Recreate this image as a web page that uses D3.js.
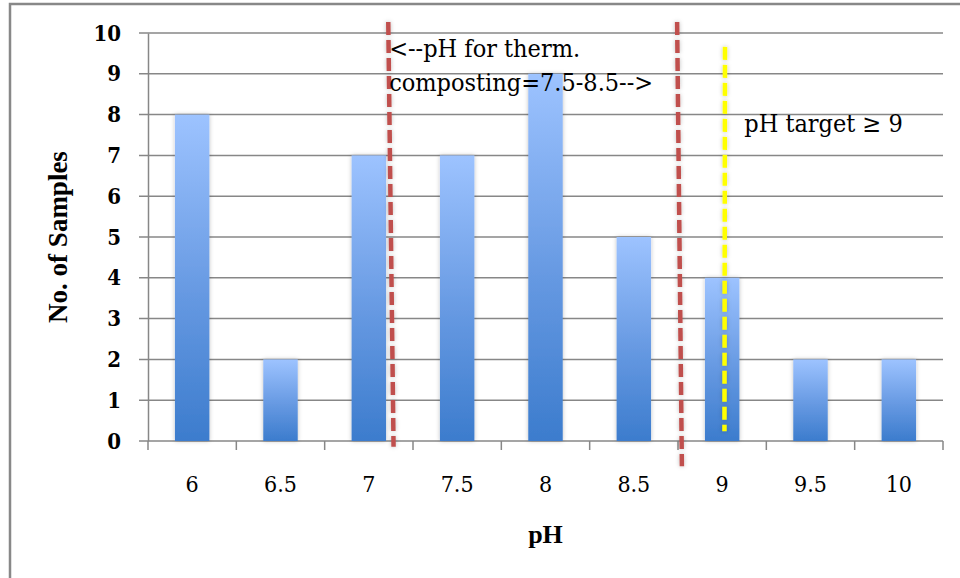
<!DOCTYPE html>
<html>
<head>
<meta charset="utf-8">
<script src="https://cdn.jsdelivr.net/npm/d3@7"></script>
<style>
  body { margin: 0; background: #fff; }
  svg { display: block; }
</style>
</head>
<body>
<div id="chart"></div>
<script>
const W = 960;
const H = 578;
const margin = { top: 33, right: 17, bottom: 137, left: 148 };
const width = W - margin.left - margin.right;
const height = H - margin.top - margin.bottom;

// data
const categories = ["6", "6.5", "7", "7.5", "8", "8.5", "9", "9.5", "10"];
const samples = [8, 2, 7, 7, 9, 5, 4, 2, 2];
const yTicks = [0, 1, 2, 3, 4, 5, 6, 7, 8, 9, 10];

// marker lines, in pH / count units: [x top, y top, x bottom, y bottom]
const thermLines = [[7.11, 10.27, 7.14, -0.14], [8.745, 10.27, 8.772, -0.62]];
const targetLine = [9.016, 9.66, 9.013, 0.24];

// annotations: [pH, count, text]
const thermNotes = [[7.115, 9.41, "<--pH for therm."], [7.115, 8.58, "composting=7.5-8.5-->"]];
const targetNote = [9.125, 7.57, "pH target \u2265 9"];

const serif = "'DejaVu Serif Condensed', 'DejaVu Serif', serif";

const svg = d3.select("#chart")
  .append("svg")
  .attr("width", W)
  .attr("height", H);

// gradient + soft shadow for the bars
const defs = svg.append("defs");
const grad = defs.append("linearGradient")
  .attr("id", "barGrad")
  .attr("x1", 0).attr("y1", 0).attr("x2", 0).attr("y2", 1);
grad.append("stop").attr("offset", "0%").attr("stop-color", "#9dc3ff");
grad.append("stop").attr("offset", "55%").attr("stop-color", "#6699e2");
grad.append("stop").attr("offset", "100%").attr("stop-color", "#3c7ccd");

const shadow = defs.append("filter")
  .attr("id", "shadow")
  .attr("filterUnits", "userSpaceOnUse")
  .attr("x", -50).attr("y", -50).attr("width", W + 100).attr("height", H + 100);
shadow.append("feDropShadow")
  .attr("dx", 0).attr("dy", 0)
  .attr("stdDeviation", 2)
  .attr("flood-color", "#000")
  .attr("flood-opacity", 0.25);

// outer frame (left and top edges visible)
svg.append("path")
  .attr("d", "M10,578 L10,4 L960,4")
  .attr("fill", "none")
  .attr("stroke", "#888")
  .attr("stroke-width", 2.5);

const g = svg.append("g")
  .attr("transform", "translate(" + margin.left + "," + margin.top + ")");

// scales
const xScale = d3.scaleBand()
  .domain(categories)
  .range([0, width])
  .paddingInner(0.61)
  .paddingOuter(0.305);

// continuous pH scale over the same span, for boundaries and marker lines
const phScale = d3.scaleLinear()
  .domain([5.75, 10.25])
  .range([0, width]);

const yScale = d3.scaleLinear()
  .domain([0, 10])
  .range([height, 0]);

// gridlines with short outward ticks
g.append("g")
  .selectAll("line")
  .data(yTicks)
  .enter().append("line")
  .attr("x1", -9)
  .attr("x2", width)
  .attr("y1", d => yScale(d))
  .attr("y2", d => yScale(d))
  .attr("stroke", "#878787")
  .attr("stroke-width", 1.5);

// y axis
const yAxis = d3.axisLeft(yScale)
  .tickValues(yTicks)
  .tickSize(0)
  .tickPadding(27);

const yAxisDrawn = g.append("g").call(yAxis);
yAxisDrawn.select(".domain")
  .attr("stroke", "#878787")
  .attr("stroke-width", 1.5);
yAxisDrawn.selectAll("text")
  .attr("font-family", serif)
  .attr("font-size", 22)
  .attr("font-weight", "bold")
  .attr("fill", "#000");

// x axis: ticks at category boundaries, labels at centres
const boundaries = d3.range(categories.length + 1).map(i => 5.75 + i * 0.5);
const xAxisG = g.append("g")
  .attr("transform", "translate(0," + height + ")");

xAxisG.selectAll(".bound")
  .data(boundaries)
  .enter().append("line")
  .attr("class", "bound")
  .attr("x1", d => phScale(d))
  .attr("x2", d => phScale(d))
  .attr("y1", 0)
  .attr("y2", 9)
  .attr("stroke", "#878787")
  .attr("stroke-width", 1.5);

xAxisG.selectAll(".lbl")
  .data(categories)
  .enter().append("text")
  .attr("class", "lbl")
  .attr("x", d => xScale(d) + xScale.bandwidth() / 2)
  .attr("y", 51)
  .attr("text-anchor", "middle")
  .attr("font-family", serif)
  .attr("font-size", 23)
  .attr("fill", "#000")
  .text(d => d);

// bars
g.append("g")
  .selectAll(".bar")
  .data(samples)
  .enter().append("rect")
  .attr("class", "bar")
  .attr("x", (d, i) => xScale(categories[i]))
  .attr("y", d => yScale(d))
  .attr("width", xScale.bandwidth())
  .attr("height", d => height - yScale(d))
  .attr("fill", "url(#barGrad)")
  .attr("filter", "url(#shadow)");

// dashed marker lines
g.append("g")
  .selectAll(".therm")
  .data(thermLines)
  .enter().append("line")
  .attr("class", "therm")
  .attr("x1", d => phScale(d[0]))
  .attr("y1", d => yScale(d[1]))
  .attr("x2", d => phScale(d[2]))
  .attr("y2", d => yScale(d[3]))
  .attr("stroke", "#c0504d")
  .attr("stroke-width", 4.5)
  .attr("stroke-dasharray", "13,5")
  .attr("filter", "url(#shadow)");

g.append("line")
  .attr("x1", phScale(targetLine[0]))
  .attr("y1", yScale(targetLine[1]))
  .attr("x2", phScale(targetLine[2]))
  .attr("y2", yScale(targetLine[3]))
  .attr("stroke", "#ffff00")
  .attr("stroke-width", 4.5)
  .attr("stroke-dasharray", "13,5")
  .attr("filter", "url(#shadow)");

// annotation texts
g.append("g")
  .selectAll(".note")
  .data(thermNotes.concat([targetNote]))
  .enter().append("text")
  .attr("class", "note")
  .attr("x", d => phScale(d[0]))
  .attr("y", d => yScale(d[1]))
  .attr("font-family", serif)
  .attr("font-size", 25)
  .attr("fill", "#000")
  .text(d => d[2]);

// axis titles
svg.append("text")
  .attr("transform", "translate(67," + (margin.top + height * 0.5) + ") rotate(-90)")
  .attr("text-anchor", "middle")
  .attr("font-family", "'Liberation Serif', serif")
  .attr("font-weight", "bold")
  .attr("font-size", 27)
  .text("No. of Samples");

svg.append("text")
  .attr("x", margin.left + width / 2)
  .attr("y", 543)
  .attr("text-anchor", "middle")
  .attr("font-family", "'Liberation Serif', serif")
  .attr("font-weight", "bold")
  .attr("font-size", 26)
  .text("pH");
</script>
</body>
</html>
